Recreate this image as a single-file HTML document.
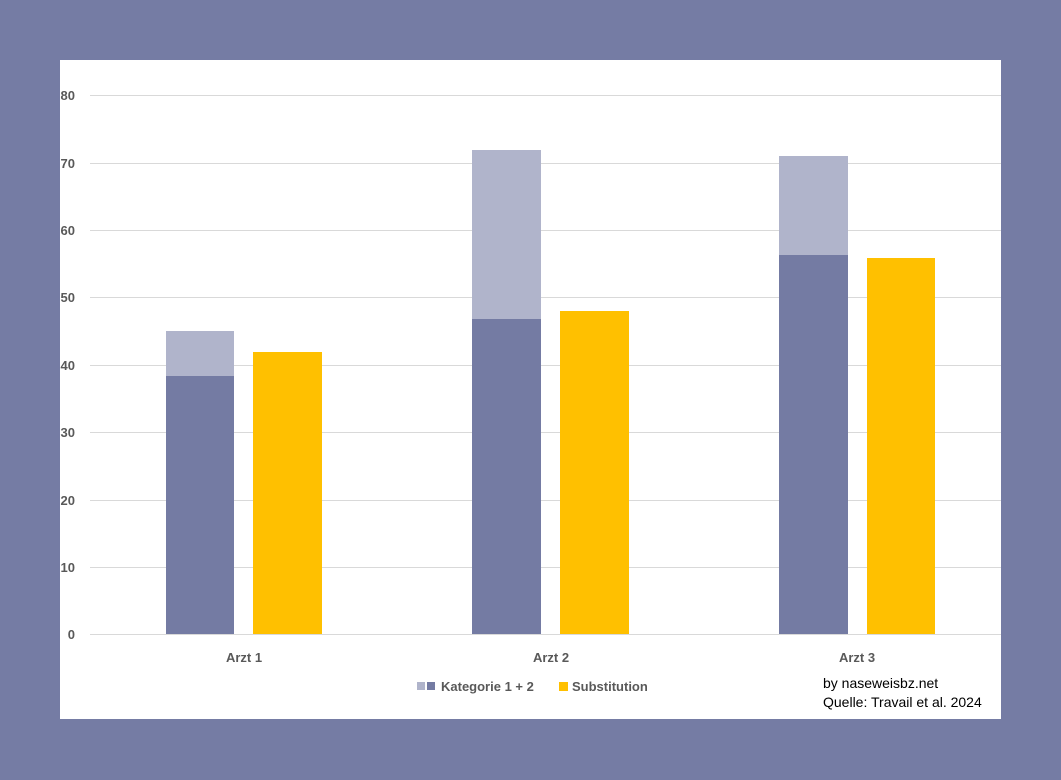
<!DOCTYPE html><html><head><style>body{margin:0;width:1061px;height:780px;background:#757ca4;overflow:hidden}</style></head><body>
<svg width="1061" height="780" style="position:absolute;left:0;top:0" font-family="Liberation Sans, sans-serif">
<rect x="60" y="60" width="941" height="659" fill="#fff"/>
<g stroke="#d9d9d9" stroke-width="1">
<line x1="90" x2="1001" y1="95.5" y2="95.5"/><line x1="90" x2="1001" y1="163.5" y2="163.5"/><line x1="90" x2="1001" y1="230.5" y2="230.5"/><line x1="90" x2="1001" y1="297.5" y2="297.5"/><line x1="90" x2="1001" y1="365.5" y2="365.5"/><line x1="90" x2="1001" y1="432.5" y2="432.5"/><line x1="90" x2="1001" y1="500.5" y2="500.5"/><line x1="90" x2="1001" y1="567.5" y2="567.5"/><line x1="90" x2="1001" y1="634.5" y2="634.5"/>
</g>
<g fill="#595959" font-size="13" font-weight="bold" text-anchor="end">
<text x="75" y="100">80</text><text x="75" y="168">70</text><text x="75" y="235">60</text><text x="75" y="302">50</text><text x="75" y="370">40</text><text x="75" y="437">30</text><text x="75" y="505">20</text><text x="75" y="572">10</text><text x="75" y="639">0</text>
</g>
<rect x="166" y="331" width="68" height="45" fill="#b0b4cb"/><rect x="166" y="376" width="68" height="258" fill="#747ba3"/><rect x="253" y="352" width="69" height="282" fill="#ffc000"/>
<rect x="472" y="150" width="69" height="169" fill="#b0b4cb"/><rect x="472" y="319" width="69" height="315" fill="#747ba3"/><rect x="560" y="311" width="69" height="323" fill="#ffc000"/>
<rect x="779" y="156" width="69" height="99" fill="#b0b4cb"/><rect x="779" y="255" width="69" height="379" fill="#747ba3"/><rect x="867" y="258" width="68" height="376" fill="#ffc000"/>
<g fill="#595959" font-size="13" font-weight="bold" text-anchor="middle">
<text x="244" y="662">Arzt 1</text><text x="551" y="662">Arzt 2</text><text x="857" y="662">Arzt 3</text>
</g>
<rect x="417" y="682" width="8" height="8" fill="#b0b4cb"/><rect x="427" y="682" width="8" height="8" fill="#747ba3"/>
<text x="441" y="691" fill="#595959" font-size="13" font-weight="bold">Kategorie 1 + 2</text>
<rect x="559" y="682" width="9" height="9" fill="#ffc000"/>
<text x="572" y="691" fill="#595959" font-size="13" font-weight="bold">Substitution</text>
<text x="823" y="688" fill="#000" font-size="14">by naseweisbz.net</text>
<text x="823" y="707" fill="#000" font-size="14">Quelle: Travail et al. 2024</text>
</svg></body></html>
